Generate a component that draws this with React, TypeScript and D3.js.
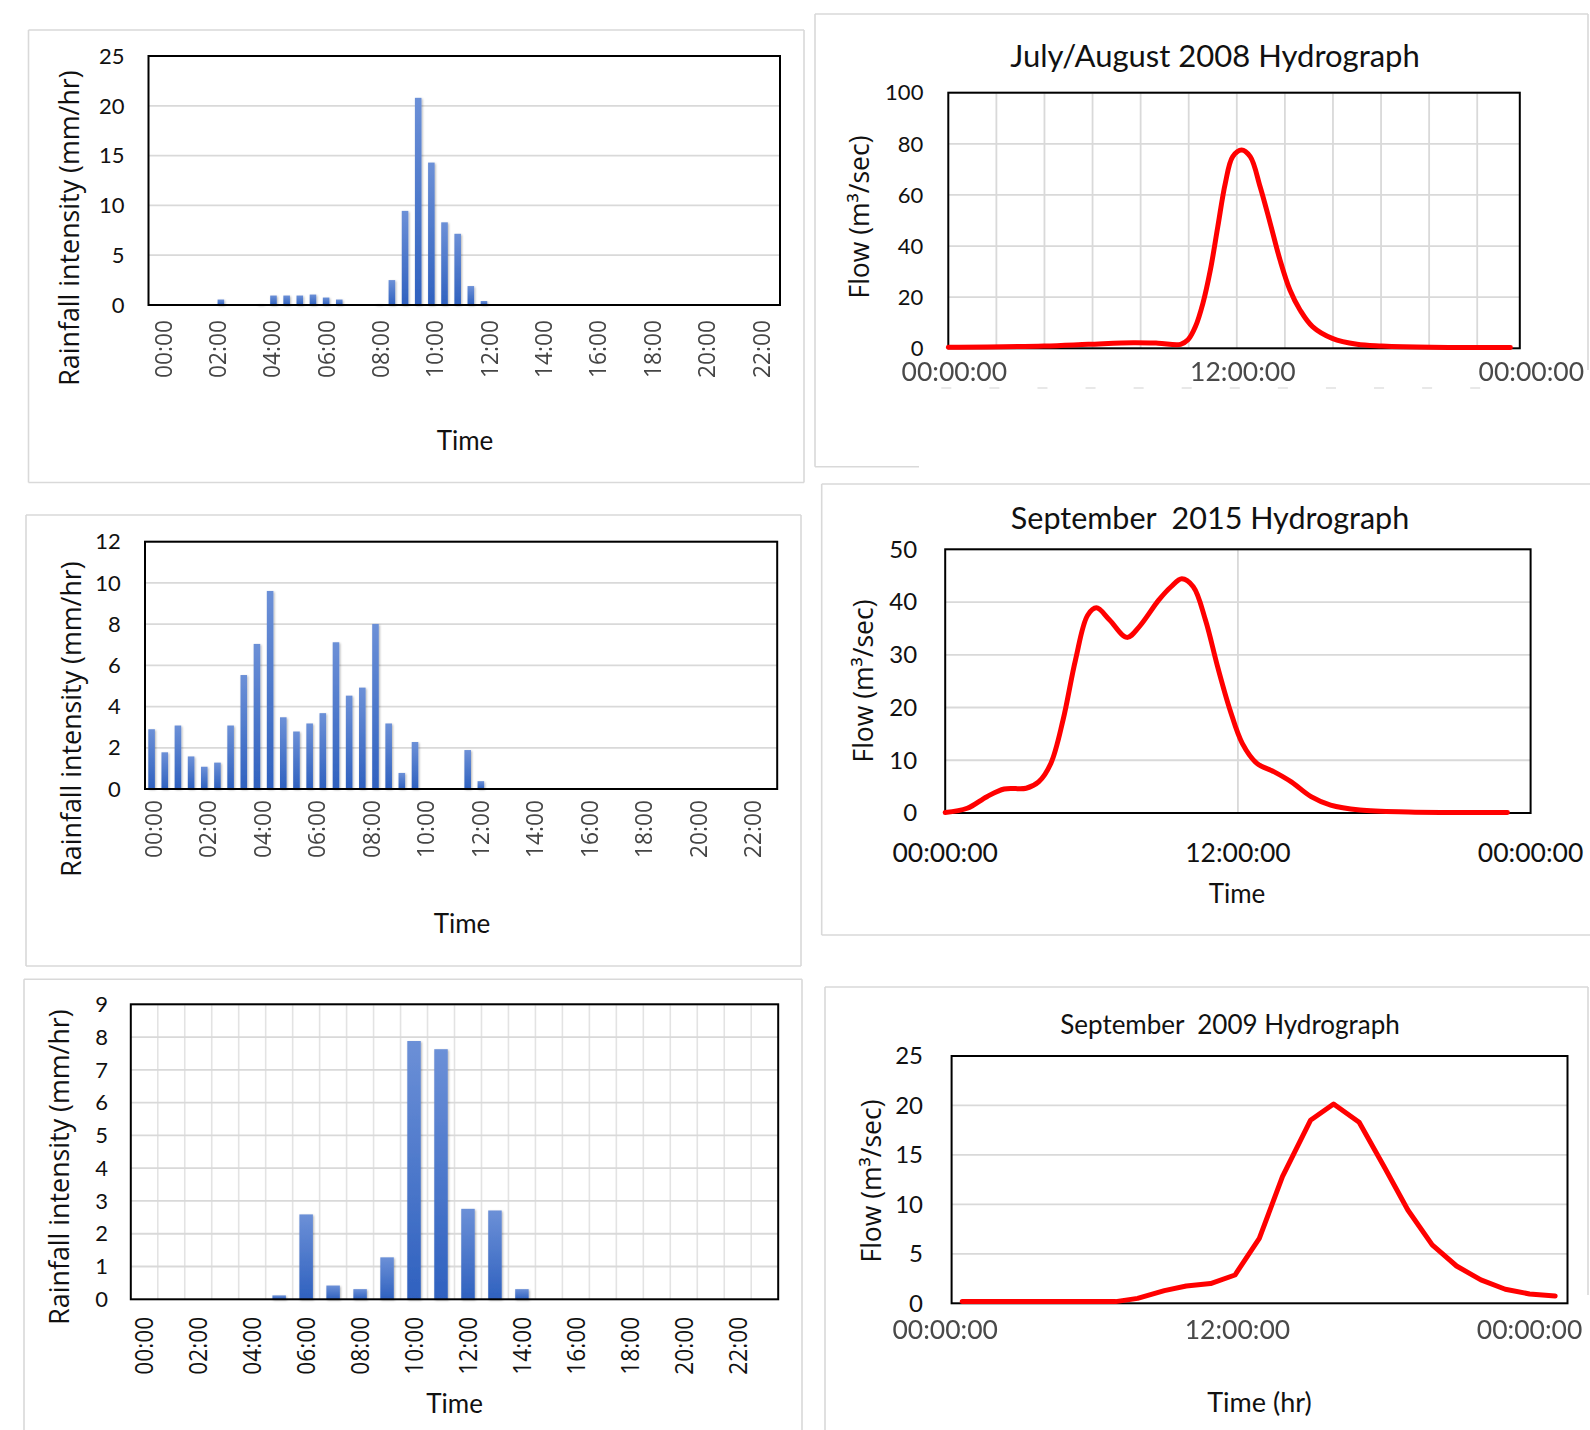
import React from 'react';
import * as d3 from 'd3';

// ---------------- data ----------------
const rainTimeLabels = ['00:00', '02:00', '04:00', '06:00', '08:00', '10:00', '12:00', '14:00', '16:00', '18:00', '20:00', '22:00'];
const rainLabelHours = [0, 2, 4, 6, 8, 10, 12, 14, 16, 18, 20, 22];

// 30-minute rainfall intensity (mm/hr), 48 steps from 00:00
const rain2008 = [0, 0, 0, 0, 0, 0.55, 0, 0, 0.1, 0.95, 0.95, 0.95, 1.05, 0.75, 0.55, 0, 0, 0.1, 2.5, 9.45, 20.8, 14.3, 8.3, 7.15, 1.9, 0.4,
  0, 0, 0, 0, 0, 0, 0, 0, 0, 0, 0, 0, 0, 0, 0, 0, 0, 0, 0, 0, 0, 0];
const rain2015 = [2.9, 1.78, 3.08, 1.58, 1.08, 1.28, 3.08, 5.53, 7.04, 9.61, 3.48, 2.79, 3.18, 3.68, 7.12, 4.53, 4.92, 8.01, 3.18, 0.78, 2.28, 0, 0, 0, 1.89, 0.38,
  0, 0, 0, 0, 0, 0, 0, 0, 0, 0, 0, 0, 0, 0, 0, 0, 0, 0, 0, 0, 0, 0];
// hourly rainfall intensity (mm/hr), 24 steps from 00:00
const rain2009 = [0, 0, 0, 0, 0, 0.12, 2.59, 0.42, 0.31, 1.28, 7.88, 7.63, 2.76, 2.71, 0.31, 0, 0, 0, 0, 0, 0, 0, 0, 0];

const hydroTickLabels = ['00:00:00', '12:00:00', '00:00:00'];
const hydroTickHours = [0, 12, 24];

const hydro2008Hours = [0, 3.97, 5.83, 7.7, 8.73, 9.66, 9.97, 10.28, 10.59, 10.9, 11.21, 11.52, 11.83, 12.2, 12.56, 12.97, 13.39, 13.8, 14.21, 14.63, 15.15, 15.97, 17.0, 18.04, 20.1, 23.38];
const hydro2008Flow = [0.4, 0.9, 1.56, 2.2, 2.0, 1.56, 3.3, 8.5, 17.6, 30.6, 47.6, 64.5, 75, 77.6, 75, 63.2, 48.9, 34.5, 22.8, 15, 8.5, 3.9, 1.56, 0.9, 0.4, 0.3];

const hydro2015Hours = [0, 0.9, 1.71, 2.42, 3.32, 3.83, 4.33, 4.83, 5.34, 5.84, 6.2, 6.74, 7.45, 7.95, 8.76, 9.26, 9.7, 10.17, 10.67, 11.17, 11.68, 12.18, 12.78, 13.49, 14.19, 15.0, 15.8, 17.0, 19.0, 23.05];
const hydro2015Flow = [0.1, 0.9, 3.1, 4.55, 4.7, 5.9, 9.4, 17.6, 29, 37.5, 38.9, 36.6, 33.3, 35.3, 40.4, 42.9, 44.4, 42.9, 36.6, 27.7, 19.5, 13.2, 9.4, 7.8, 5.9, 3.1, 1.5, 0.57, 0.2, 0.1];

const hydro2009Hours = [0.7, 2, 3, 4, 5, 6, 7, 7.9, 9, 9.9, 10.9, 11.9, 12.9, 13.85, 15, 15.95, 17, 18.05, 19, 20, 21, 22, 23, 24, 25.05];
const hydro2009Flow = [0.17, 0.17, 0.17, 0.17, 0.17, 0.17, 0.17, 0.5, 1.28, 1.75, 2.0, 2.86, 6.57, 12.8, 18.5, 20.15, 18.3, 13.7, 9.43, 5.9, 3.77, 2.36, 1.42, 0.94, 0.74];

const rainYTitle = 'Rainfall intensity (mm/hr)';
const flowYTitle = 'Flow (m³/sec)';

// ---------------- styling ----------------
const TICK_FONT = 'Lato, "Noto Sans", sans-serif';
const AX_FONT = '"Open Sans", "Noto Sans", sans-serif';
const GRID = '#d9d9d9';

type Seg = [number, number, number, number];

function Frame({ segs }: { segs: Seg[] }) {
  return (
    <g stroke="#d9d9d9" strokeWidth={1.6} fill="none">
      {segs.map((s, i) => <line key={i} x1={s[0]} y1={s[1]} x2={s[2]} y2={s[3]} />)}
    </g>
  );
}

interface RainProps {
  values: number[];
  left: number; right: number; top: number; bottom: number;
  yMax: number; yStep: number; tickRight: number; tickSize: number;
  labelMode: 'linear' | 'band'; labelRange?: [number, number];
  labelTop: number; labelColor: string; labelBlur: boolean; labelSize: number;
  vGrid: boolean;
  timeX: number; timeY: number;
  yTitleX: number; yTitleY: number;
}

function RainPanel(p: RainProps) {
  const n = p.values.length;
  const x = d3.scaleBand<number>().domain(d3.range(n)).range([p.left, p.right]).paddingInner(0.5).paddingOuter(0.25);
  const y = d3.scaleLinear().domain([0, p.yMax]).range([p.bottom, p.top]);
  const ticks = d3.range(0, p.yMax + 1e-6, p.yStep);
  const step = x.step();
  const lin = d3.scaleLinear().domain([0, 22]).range(p.labelRange || [0, 1]);
  const labelPos = (h: number) => (p.labelMode === 'band' ? (x(h) as number) + x.bandwidth() / 2 : lin(h));
  return (
    <g>
      {p.vGrid && d3.range(1, n).map(i => (
        <line key={'v' + i} x1={p.left + step * i} x2={p.left + step * i} y1={p.top} y2={p.bottom} stroke="#e3e3e3" strokeWidth={1.6} />
      ))}
      {ticks.filter(t => t > 0).map(t => (
        <line key={'h' + t} x1={p.left} x2={p.right} y1={y(t)} y2={y(t)} stroke={GRID} strokeWidth={1.8} />
      ))}
      <g filter="url(#barShadow)">
        {p.values.map((v, i) => v > 0 ? (
          <rect key={i} x={x(i)} y={y(v)} width={x.bandwidth()} height={y(0) - y(v)} fill="url(#barGrad)" />
        ) : null)}
      </g>
      <rect x={p.left} y={p.top} width={p.right - p.left} height={p.bottom - p.top} fill="none" stroke="#000" strokeWidth={2} />
      {ticks.map(t => (
        <text key={'t' + t} x={p.tickRight} y={y(t)} dy="0.35em" textAnchor="end" fontFamily={TICK_FONT} fontSize={p.tickSize} fill="#111">{t}</text>
      ))}
      <g filter={p.labelBlur ? 'url(#soft)' : undefined}>
        {rainLabelHours.map((h, i) => (
          <text key={'x' + h} transform={`translate(${labelPos(h)},${p.labelTop}) rotate(-90)`} dy="0.35em" textAnchor="end"
            fontFamily={AX_FONT} fontSize={p.labelSize} fill={p.labelColor} textLength={58} lengthAdjust="spacingAndGlyphs">{rainTimeLabels[i]}</text>
        ))}
      </g>
      <text x={p.timeX} y={p.timeY} textAnchor="middle" fontFamily={TICK_FONT} fontSize={26} fill="#111">Time</text>
      <text transform={`translate(${p.yTitleX},${p.yTitleY}) rotate(-90)`} dy="0.35em" textAnchor="middle" fontFamily={AX_FONT} fontSize={26.8} fill="#111">{rainYTitle}</text>
    </g>
  );
}

interface FlowProps {
  hours: number[]; flows: number[];
  left: number; right: number; top: number; bottom: number;
  x0: number; x24: number;
  yMax: number; yStep: number; tickRight: number; tickSize: number;
  vGridHours: number[];
  smooth: boolean;
  title: string; titleX: number; titleY: number; titleSize: number;
  tickLabelY: number; tickLabelOffset: number; tickColor: string; tickBlur: boolean;
  xTitle: string; xTitleX: number; xTitleY: number; xTitleSize: number;
  yTitleX: number; yTitleY: number;
  marks?: number[]; marksY?: number;
}

function FlowPanel(p: FlowProps) {
  const x = d3.scaleLinear().domain([0, 24]).range([p.x0, p.x24]);
  const y = d3.scaleLinear().domain([0, p.yMax]).range([p.bottom, p.top]);
  const ticks = d3.range(0, p.yMax + 1e-6, p.yStep);
  const pts = p.hours.map((h, i) => [h, p.flows[i]] as [number, number]);
  const line = d3.line<[number, number]>()
    .x(d => x(d[0]))
    .y(d => y(d[1]))
    .curve(p.smooth ? d3.curveCatmullRom.alpha(0.5) : d3.curveLinear);
  return (
    <g>
      {p.vGridHours.map(h => (
        <line key={'v' + h} x1={x(h)} x2={x(h)} y1={p.top} y2={p.bottom} stroke={GRID} strokeWidth={1.8} />
      ))}
      {ticks.filter(t => t > 0).map(t => (
        <line key={'h' + t} x1={p.left} x2={p.right} y1={y(t)} y2={y(t)} stroke={GRID} strokeWidth={1.8} />
      ))}
      <rect x={p.left} y={p.top} width={p.right - p.left} height={p.bottom - p.top} fill="none" stroke="#000" strokeWidth={2} />
      <path d={line(pts) || ''} fill="none" stroke="#ff0000" strokeWidth={5} strokeLinejoin="round" strokeLinecap="round" />
      {ticks.map(t => (
        <text key={'t' + t} x={p.tickRight} y={y(t)} dy="0.35em" textAnchor="end" fontFamily={TICK_FONT} fontSize={p.tickSize} fill="#111">{t}</text>
      ))}
      <g filter={p.tickBlur ? 'url(#soft)' : undefined}>
        {hydroTickHours.map((h, i) => (
          <text key={'x' + i} x={x(h) + p.tickLabelOffset} y={p.tickLabelY} textAnchor="middle" fontFamily={TICK_FONT} fontSize={26.5} fill={p.tickColor}>{hydroTickLabels[i]}</text>
        ))}
      </g>
      {p.marks && p.marks.map(h => (
        <line key={'m' + h} x1={x(h) - 7} x2={x(h) + 3} y1={p.marksY} y2={p.marksY} stroke="#aaaaaa" strokeWidth={1} opacity={0.55} />
      ))}
      <text x={p.titleX} y={p.titleY} textAnchor="middle" fontFamily={TICK_FONT} fontSize={p.titleSize} fill="#111" style={{ whiteSpace: 'pre' }}>{p.title}</text>
      {p.xTitle && <text x={p.xTitleX} y={p.xTitleY} textAnchor="middle" fontFamily={TICK_FONT} fontSize={p.xTitleSize} fill="#111">{p.xTitle}</text>}
      <text transform={`translate(${p.yTitleX},${p.yTitleY}) rotate(-90)`} dy="0.35em" textAnchor="middle" fontFamily={AX_FONT} fontSize={26.5} fill="#111">{flowYTitle}</text>
    </g>
  );
}

export default function App() {
  return (
    <svg width={1590} height={1430} style={{ position: 'absolute', left: 0, top: 0, background: '#fff' }}>
      <defs>
        <linearGradient id="barGrad" x1="0" y1="0" x2="0" y2="1">
          <stop offset="0" stopColor="#6c90d7" />
          <stop offset="1" stopColor="#2f61bf" />
        </linearGradient>
        <filter id="barShadow" x="-60%" y="-10%" width="220%" height="130%">
          <feDropShadow dx="1" dy="1" stdDeviation="1.3" floodColor="#000" floodOpacity="0.3" />
        </filter>
        <filter id="soft" x="-5%" y="-20%" width="110%" height="140%">
          <feGaussianBlur stdDeviation="0.6" />
        </filter>
      </defs>
      <rect x={0} y={0} width={1590} height={1430} fill="#fff" />

      {/* frames */}
      <Frame segs={[[28.5, 30, 804, 30], [28.5, 30, 28.5, 482.5], [28.5, 482.5, 804, 482.5], [804, 30, 804, 482.5]]} />
      <Frame segs={[[815, 14, 1588, 14], [815, 14, 815, 466.7], [815, 466.7, 919, 466.7], [1588, 14, 1588, 370]]} />
      <Frame segs={[[26, 515, 801, 515], [26, 515, 26, 966], [26, 966, 801, 966], [801, 515, 801, 966]]} />
      <Frame segs={[[821.7, 484, 1590, 484], [821.7, 484, 821.7, 935], [821.7, 935, 1590, 935]]} />
      <Frame segs={[[24, 979.3, 802, 979.3], [24, 979.3, 24, 1430], [802, 979.3, 802, 1430]]} />
      <Frame segs={[[825, 987, 1588, 987], [825, 987, 825, 1430], [1588, 987, 1588, 1295]]} />

      <RainPanel values={rain2008} left={148.5} right={780} top={56} bottom={305} yMax={25} yStep={5} tickRight={124.5} tickSize={22}
        labelMode="linear" labelRange={[163.3, 761.3]} labelTop={320} labelColor="#444" labelBlur={true} labelSize={23.5} vGrid={false}
        timeX={465} timeY={450} yTitleX={70} yTitleY={228} />

      <RainPanel values={rain2015} left={145} right={777.2} top={541.7} bottom={789} yMax={12} yStep={2} tickRight={120.8} tickSize={22}
        labelMode="linear" labelRange={[153.5, 753]} labelTop={800} labelColor="#444" labelBlur={true} labelSize={23.5} vGrid={false}
        timeX={462} timeY={933} yTitleX={72} yTitleY={719} />

      <RainPanel values={rain2009} left={130.8} right={778.2} top={1004.3} bottom={1299.3} yMax={9} yStep={1} tickRight={108} tickSize={22}
        labelMode="band" labelTop={1316.7} labelColor="#111" labelBlur={false} labelSize={26} vGrid={true}
        timeX={454.6} timeY={1413} yTitleX={60} yTitleY={1167} />

      <FlowPanel hours={hydro2008Hours} flows={hydro2008Flow} left={948.3} right={1519.8} top={92.7} bottom={348.3}
        x0={948.3} x24={1525.3} yMax={100} yStep={20} tickRight={923.4} tickSize={22}
        vGridHours={[2, 4, 6, 8, 10, 12, 14, 16, 18, 20, 22]} smooth={true}
        title="July/August 2008 Hydrograph" titleX={1215} titleY={67} titleSize={31}
        tickLabelY={381} tickLabelOffset={6} tickColor="#4a4a4a" tickBlur={true}
        xTitle="" xTitleX={0} xTitleY={0} xTitleSize={26}
        yTitleX={860} yTitleY={217}
        marks={[0, 2, 4, 6, 8, 10, 12, 14, 16, 18, 20, 22]} marksY={388} />

      <FlowPanel hours={hydro2015Hours} flows={hydro2015Flow} left={945.2} right={1530.6} top={549.3} bottom={813}
        x0={945.2} x24={1530.6} yMax={50} yStep={10} tickRight={917.2} tickSize={24}
        vGridHours={[12]} smooth={true}
        title="September  2015 Hydrograph" titleX={1210} titleY={528.7} titleSize={30.5}
        tickLabelY={861.7} tickLabelOffset={0} tickColor="#111" tickBlur={false}
        xTitle="Time" xTitleX={1237} xTitleY={903} xTitleSize={26}
        yTitleX={864} yTitleY={681} />

      <FlowPanel hours={hydro2009Hours} flows={hydro2009Flow} left={951.6} right={1567.5} top={1056} bottom={1303.3}
        x0={945.2} x24={1529.6} yMax={25} yStep={5} tickRight={923} tickSize={24}
        vGridHours={[]} smooth={false}
        title="September  2009 Hydrograph" titleX={1230} titleY={1034} titleSize={26}
        tickLabelY={1339} tickLabelOffset={0} tickColor="#4a4a4a" tickBlur={true}
        xTitle="Time (hr)" xTitleX={1259.5} xTitleY={1412} xTitleSize={27}
        yTitleX={871.5} yTitleY={1181} />
    </svg>
  );
}
